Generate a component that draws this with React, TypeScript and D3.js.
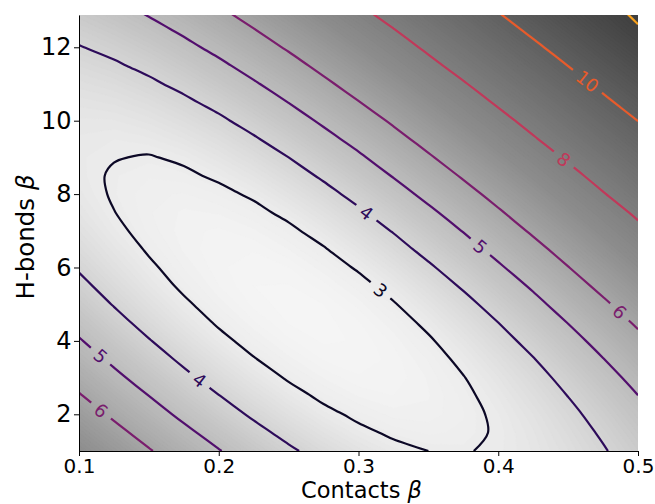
import React, { useEffect, useRef } from 'react';
import * as d3 from 'd3';

// sample grid: columns = contacts beta, rows = h-bonds beta
const contactsBeta = [0.1, 0.125, 0.15, 0.175, 0.2, 0.225, 0.25, 0.275, 0.3, 0.325, 0.35, 0.375, 0.4, 0.425, 0.45, 0.475, 0.5];
const hbondsBeta = [1, 1.5, 2, 2.5, 3, 3.5, 4, 4.5, 5, 5.5, 6, 6.5, 7, 7.5, 8, 8.5, 9, 9.5, 10, 10.5, 11, 11.5, 12, 12.5, 13];

// one row per h-bonds beta value, bottom row first
const scoreRows = [
  [7.14, 6.60, 6.06, 5.54, 5.04, 4.56, 4.12, 3.72, 3.39, 3.14, 3.00, 2.97, 3.07, 3.27, 3.57, 3.94, 4.37],
  [6.78, 6.23, 5.70, 5.18, 4.69, 4.22, 3.79, 3.42, 3.12, 2.92, 2.84, 2.88, 3.05, 3.32, 3.68, 4.09, 4.55],
  [6.42, 5.87, 5.34, 4.83, 4.34, 3.89, 3.48, 3.14, 2.89, 2.74, 2.73, 2.85, 3.09, 3.42, 3.82, 4.27, 4.75],
  [6.06, 5.52, 5.00, 4.49, 4.02, 3.58, 3.20, 2.89, 2.69, 2.62, 2.69, 2.89, 3.19, 3.57, 4.01, 4.48, 4.99],
  [5.72, 5.18, 4.66, 4.17, 3.70, 3.29, 2.94, 2.69, 2.55, 2.56, 2.71, 2.98, 3.33, 3.75, 4.22, 4.72, 5.24],
  [5.38, 4.85, 4.34, 3.86, 3.42, 3.03, 2.73, 2.53, 2.48, 2.57, 2.79, 3.12, 3.52, 3.97, 4.47, 4.98, 5.52],
  [5.06, 4.54, 4.04, 3.57, 3.15, 2.81, 2.56, 2.44, 2.47, 2.64, 2.93, 3.31, 3.75, 4.22, 4.73, 5.26, 5.81],
  [4.75, 4.24, 3.75, 3.31, 2.93, 2.63, 2.45, 2.42, 2.53, 2.77, 3.12, 3.54, 4.00, 4.50, 5.02, 5.56, 6.11],
  [4.45, 3.96, 3.50, 3.09, 2.75, 2.51, 2.41, 2.46, 2.65, 2.96, 3.35, 3.79, 4.28, 4.79, 5.33, 5.87, 6.43],
  [4.18, 3.71, 3.27, 2.90, 2.62, 2.46, 2.45, 2.58, 2.83, 3.19, 3.61, 4.08, 4.58, 5.10, 5.65, 6.20, 6.76],
  [3.93, 3.48, 3.09, 2.77, 2.56, 2.48, 2.54, 2.75, 3.06, 3.45, 3.90, 4.38, 4.90, 5.43, 5.98, 6.53, 7.10],
  [3.70, 3.29, 2.94, 2.68, 2.55, 2.55, 2.70, 2.96, 3.32, 3.74, 4.21, 4.70, 5.23, 5.76, 6.32, 6.88, 7.44],
  [3.50, 3.12, 2.83, 2.65, 2.60, 2.68, 2.89, 3.21, 3.60, 4.04, 4.52, 5.03, 5.56, 6.11, 6.66, 7.23, 7.80],
  [3.33, 3.01, 2.79, 2.68, 2.71, 2.86, 3.13, 3.48, 3.90, 4.36, 4.85, 5.37, 5.91, 6.46, 7.02, 7.58, 8.15],
  [3.21, 2.95, 2.80, 2.77, 2.87, 3.08, 3.40, 3.78, 4.22, 4.69, 5.20, 5.72, 6.26, 6.81, 7.38, 7.95, 8.52],
  [3.14, 2.95, 2.87, 2.91, 3.08, 3.34, 3.69, 4.10, 4.55, 5.04, 5.55, 6.08, 6.62, 7.18, 7.74, 8.31, 8.88],
  [3.12, 3.02, 2.97, 3.08, 3.32, 3.63, 4.00, 4.43, 4.89, 5.39, 5.91, 6.44, 6.99, 7.55, 8.11, 8.68, 9.26],
  [3.16, 3.10, 3.16, 3.33, 3.59, 3.93, 4.33, 4.77, 5.24, 5.75, 6.27, 6.81, 7.36, 7.92, 8.49, 9.06, 9.63],
  [3.24, 3.25, 3.37, 3.59, 3.88, 4.25, 4.66, 5.12, 5.60, 6.11, 6.64, 7.18, 7.73, 8.29, 8.86, 9.44, 10.01],
  [3.37, 3.44, 3.61, 3.87, 4.19, 4.58, 5.01, 5.47, 5.97, 6.48, 7.01, 7.55, 8.11, 8.67, 9.24, 9.82, 10.39],
  [3.54, 3.66, 3.88, 4.17, 4.52, 4.92, 5.36, 5.84, 6.34, 6.85, 7.39, 7.93, 8.49, 9.05, 9.63, 10.20, 10.77],
  [3.74, 3.91, 4.16, 4.48, 4.85, 5.27, 5.72, 6.21, 6.71, 7.23, 7.77, 8.32, 8.87, 9.44, 10.01, 10.59, 11.16],
  [3.97, 4.18, 4.46, 4.81, 5.20, 5.63, 6.09, 6.58, 7.09, 7.61, 8.15, 8.70, 9.26, 9.82, 10.40, 10.98, 11.55],
  [4.22, 4.47, 4.78, 5.14, 5.55, 5.99, 6.46, 6.95, 7.46, 7.99, 8.53, 9.09, 9.65, 10.21, 10.79, 11.37, 11.93],
  [4.50, 4.77, 5.11, 5.48, 5.90, 6.35, 6.83, 7.33, 7.85, 8.38, 8.92, 9.47, 10.03, 10.60, 11.18, 11.70, 12.20],
];

const contourLevels = [3, 4, 5, 6, 8, 10, 12];
const levelColors = ['#0c0826', '#2d0b5a', '#520e6d', '#7a1d6d', '#c0395a', '#e85b2b', '#f9a11b'];
const xTicks = [0.1, 0.2, 0.3, 0.4, 0.5];
const yTicks = [2, 4, 6, 8, 10, 12];
// inline label spots: [level, contacts beta, h-bonds beta]
const labelSpots = [
  [6, 0.116, 2.11], [5, 0.115, 3.57], [4, 0.187, 2.97], [3, 0.314, 5.3],
  [4, 0.305, 7.46], [5, 0.386, 6.51], [6, 0.486, 4.76], [8, 0.447, 8.95], [10, 0.464, 11.08],
];
// grey shade of the background field
const shadeStops = [2.45, 3, 4.5, 7.1, 12.3];
const shadeGreys = ['#f5f5f5', '#ececec', '#c8c8c8', '#8d8d8d', '#3c3c3c'];

const W = 655;
const H = 504;
const plot = { left: 79, right: 638, top: 15, bottom: 451 };

const App = () => {
  const ref = useRef<SVGSVGElement>(null);

  useEffect(() => {
    const svg = d3.select(ref.current);
    svg.selectAll('*').remove();

    const x = d3.scaleLinear().domain([0.1, 0.5]).range([plot.left, plot.right]);
    const y = d3.scaleLinear().domain([1, 12.88]).range([plot.bottom, plot.top]);
    const nx = contactsBeta.length;
    const ny = hbondsBeta.length;
    const values = scoreRows.flat();
    const stepX = contactsBeta[1] - contactsBeta[0];
    const stepY = hbondsBeta[1] - hbondsBeta[0];
    // grid coords from d3.contours put sample i at i + 0.5
    const gx = (c: number) => x(contactsBeta[0] + (c - 0.5) * stepX);
    const gy = (c: number) => y(hbondsBeta[0] + (c - 0.5) * stepY);
    const proj = d3.geoTransform({
      point(px: number, py: number) { (this as any).stream.point(gx(px), gy(py)); },
    });
    const geo = d3.geoPath(proj);

    const defs = svg.append('defs');
    defs.append('clipPath').attr('id', 'plotclip')
      .append('rect')
      .attr('x', plot.left).attr('y', plot.top)
      .attr('width', plot.right - plot.left).attr('height', plot.bottom - plot.top);

    // grey background field, drawn as fine filled bands
    const gray = d3.scaleLinear<string>().domain(shadeStops).range(shadeGreys).clamp(true);
    const bandStep = 0.08;
    const bandThresholds = d3.range(2.3, 12.8, bandStep);
    const bands = d3.contours().size([nx, ny]).thresholds(bandThresholds)(values);
    svg.append('g').attr('clip-path', 'url(#plotclip)')
      .selectAll('path')
      .data(bands)
      .enter()
      .append('path')
      .attr('d', (d) => geo(d as any))
      .attr('fill', (d) => gray(d.value + bandStep / 2))
      .attr('stroke', (d) => gray(d.value + bandStep / 2))
      .attr('stroke-width', 0.6);

    // contour lines; cut the rings where they run along the grid border
    const onBorder = (p: number[]) => p[0] === 0 || p[0] === nx || p[1] === 0 || p[1] === ny;
    const lines = d3.contours().size([nx, ny]).thresholds(contourLevels)(values);
    const runsByLevel = new Map<number, { pts: [number, number][]; closed: boolean }[]>();
    lines.forEach((mp) => {
      const runs: { pts: [number, number][]; closed: boolean }[] = [];
      const toPx = (p: number[]) => [gx(p[0]), gy(p[1])] as [number, number];
      mp.coordinates.forEach((poly) => poly.forEach((ring) => {
        const pts = ring.slice(0, -1);
        const k = pts.findIndex(onBorder);
        if (k < 0) {
          runs.push({ pts: pts.map(toPx), closed: true });
          return;
        }
        const rot = pts.slice(k).concat(pts.slice(0, k));
        let run: number[][] = [];
        rot.forEach((p) => {
          if (onBorder(p)) {
            if (run.length > 1) runs.push({ pts: run.map(toPx), closed: false });
            run = [];
          } else {
            run.push(p);
          }
        });
        if (run.length > 1) runs.push({ pts: run.map(toPx), closed: false });
      }));
      runsByLevel.set(mp.value, runs);
    });

    const fontSize = 18;
    const labels = labelSpots.map(([lev, bx, by]) => {
      const px = x(bx);
      const py = y(by);
      let best = { d: Infinity, x: px, y: py, a: 0 };
      (runsByLevel.get(lev) || []).forEach(({ pts, closed }) => {
        const ring = closed ? pts.concat([pts[0]]) : pts;
        for (let i = 0; i < ring.length - 1; i++) {
          const [x1, y1] = ring[i];
          const [x2, y2] = ring[i + 1];
          const vx = x2 - x1;
          const vy = y2 - y1;
          const len2 = vx * vx + vy * vy || 1;
          const t = Math.max(0, Math.min(1, ((px - x1) * vx + (py - y1) * vy) / len2));
          const qx = x1 + t * vx;
          const qy = y1 + t * vy;
          const dd = Math.hypot(px - qx, py - qy);
          if (dd < best.d) best = { d: dd, x: qx, y: qy, a: (Math.atan2(vy, vx) * 180) / Math.PI };
        }
      });
      let a = best.a;
      if (a > 90) a -= 180;
      if (a < -90) a += 180;
      const text = String(lev);
      const gap = text.length * 0.636 * fontSize + 14;
      return { lev, x: best.x, y: best.y, a, text, gap };
    });

    const mask = defs.append('mask').attr('id', 'labelgaps')
      .attr('maskUnits', 'userSpaceOnUse')
      .attr('x', 0).attr('y', 0).attr('width', W).attr('height', H);
    mask.append('rect').attr('width', W).attr('height', H).attr('fill', 'white');
    labels.forEach((l) => {
      mask.append('rect')
        .attr('x', -l.gap / 2).attr('y', -10).attr('width', l.gap).attr('height', 20)
        .attr('transform', `translate(${l.x},${l.y}) rotate(${l.a})`)
        .attr('fill', 'black');
    });

    const openLine = d3.line().curve(d3.curveCatmullRom.alpha(0.5));
    const closedLine = d3.line().curve(d3.curveCatmullRomClosed.alpha(0.5));
    const lg = svg.append('g').attr('clip-path', 'url(#plotclip)')
      .append('g').attr('mask', 'url(#labelgaps)');
    contourLevels.forEach((lev, i) => {
      (runsByLevel.get(lev) || []).forEach(({ pts, closed }) => {
        lg.append('path')
          .attr('d', closed ? closedLine(pts) : openLine(pts))
          .attr('fill', 'none')
          .attr('stroke', levelColors[i])
          .attr('stroke-width', 2.2)
          .attr('stroke-linejoin', 'round');
      });
    });

    svg.append('g').selectAll('text')
      .data(labels)
      .enter()
      .append('text')
      .attr('transform', (l) => `translate(${l.x},${l.y}) rotate(${l.a})`)
      .attr('text-anchor', 'middle')
      .attr('dy', '0.36em')
      .style('font-family', 'DejaVu Sans')
      .style('font-size', `${fontSize}px`)
      .attr('fill', (l) => levelColors[contourLevels.indexOf(l.lev)])
      .text((l) => l.text);

    // axes: left and bottom spines only
    const xAxis = svg.append('g').attr('transform', `translate(0,${plot.bottom})`)
      .call(d3.axisBottom(x).tickValues(xTicks).tickFormat(d3.format('.1f')).tickSize(5).tickSizeOuter(0).tickPadding(2.5));
    xAxis.selectAll('text').style('font-family', 'DejaVu Sans').style('font-size', '20px').attr('fill', '#000');
    const yAxis = svg.append('g').attr('transform', `translate(${plot.left},0)`)
      .call(d3.axisLeft(y).tickValues(yTicks).tickFormat(d3.format('d')).tickSize(5).tickSizeOuter(0).tickPadding(2.5));
    yAxis.selectAll('text').style('font-family', 'DejaVu Sans').style('font-size', '24px').attr('fill', '#000');
    svg.selectAll('.domain, .tick line').attr('stroke', '#000').attr('stroke-width', 1);

    const xl = svg.append('text')
      .attr('x', (plot.left + plot.right) / 2 + 3).attr('y', 498)
      .attr('text-anchor', 'middle')
      .style('font-family', 'DejaVu Sans').style('font-size', '22.5px');
    xl.append('tspan').text('Contacts ');
    xl.append('tspan').style('font-style', 'italic').text('β');

    const yl = svg.append('text')
      .attr('transform', `translate(34,${(plot.top + plot.bottom) / 2 + 4}) rotate(-90)`)
      .attr('text-anchor', 'middle')
      .style('font-family', 'DejaVu Sans').style('font-size', '24.5px');
    yl.append('tspan').text('H-bonds ');
    yl.append('tspan').style('font-style', 'italic').text('β');
  }, []);

  return (
    <svg ref={ref} width={W} height={H} style={{ position: 'absolute', left: 0, top: 0, background: '#fff' }} />
  );
};

export default App;
